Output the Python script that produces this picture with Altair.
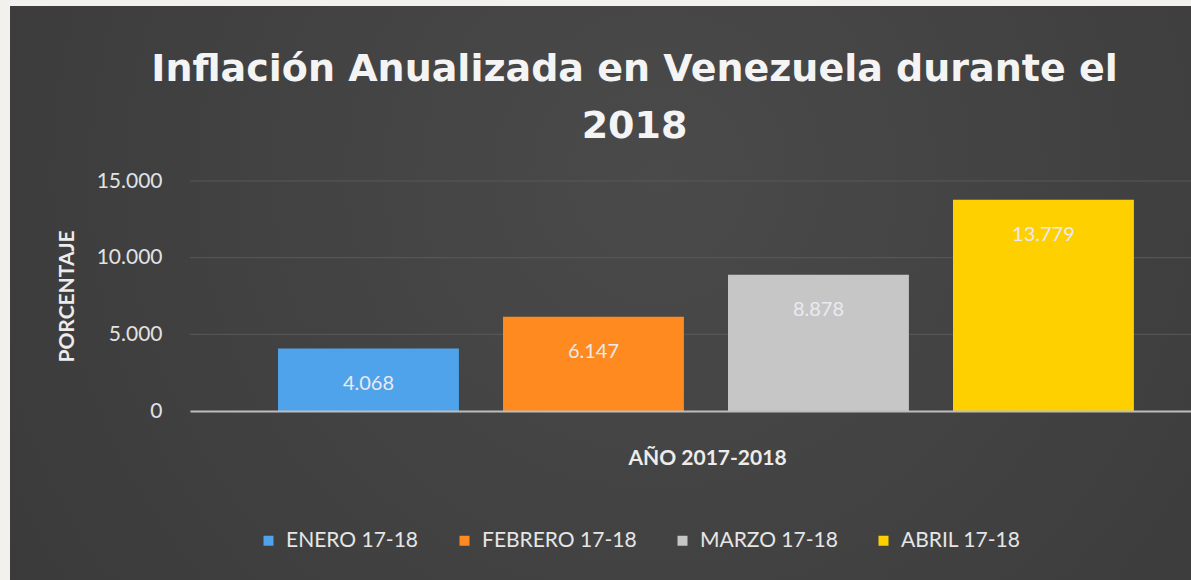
import altair as alt
import pandas as pd

categories = ["ENERO 17-18", "FEBRERO 17-18", "MARZO 17-18", "ABRIL 17-18"]
values = [4068, 6147, 8878, 13779]
colors = ["#4fa3ea", "#ff8a1f", "#c6c6c6", "#ffd000"]
y_ticks = [0, 5000, 10000, 15000]
grid_lines = [5000, 10000, 15000]

df = pd.DataFrame({"cat": categories, "val": values})

W, H = 1001, 230
FONT = "Lato"

bg = alt.Chart(pd.DataFrame({"a": [0]})).mark_rect(
    color=alt.Gradient(
        gradient="radial",
        stops=[alt.GradientStop(color="#4a4a4a", offset=0),
               alt.GradientStop(color="#383838", offset=1)],
        x1=0.55, y1=0.4, r1=0, x2=0.55, y2=0.4, r2=0.75,
    )
).encode(
    x=alt.value(-180), x2=alt.value(W), y=alt.value(-175), y2=alt.value(H + 169)
)

x_enc = alt.X(
    "cat:N", sort=categories,
    scale=alt.Scale(paddingInner=0.196, paddingOuter=0.3225, align=0.6065),
    axis=alt.Axis(labels=False, ticks=False, domain=True, domainColor="#bdbdbd",
                  domainWidth=2, zindex=1, title="AÑO 2017-2018", titleFont=FONT,
                  titleFontSize=21, titleFontWeight="bold", titleColor="#ececec",
                  titleX=517, titleY=47, titleBaseline="middle", titleAlign="center"),
)
y_enc = alt.Y(
    "val:Q", scale=alt.Scale(domain=[0, 15000], nice=False),
    axis=alt.Axis(values=y_ticks, domain=False, ticks=False, grid=False, zindex=1,
                  labelExpr="replace(format(datum.value, ','), ',', '.')",
                  labelFont=FONT, labelFontSize=21, labelColor="#e2e2e2",
                  labelPadding=28,
                  title="PORCENTAJE", titleFont=FONT, titleFontSize=21,
                  titleFontWeight="bold", titleColor="#ececec",
                  titleAngle=-90, titleX=-123, titleY=H / 2,
                  titleAlign="center", titleBaseline="middle"),
)

grid = alt.Chart(pd.DataFrame({"val": grid_lines})).mark_rule(
    color="#595959", strokeWidth=1
).encode(y=y_enc)

bars = alt.Chart(df).mark_bar().encode(
    x=x_enc, y=y_enc,
    color=alt.Color("cat:N", scale=alt.Scale(domain=categories, range=colors),
                    legend=alt.Legend(orient="none", legendX=68, legendY=349,
                                      direction="horizontal", title=None,
                                      symbolType="square", symbolSize=100,
                                      symbolStrokeWidth=0, labelFont=FONT,
                                      labelFontSize=21, labelColor="#e6e6e6",
                                      labelOffset=7, columnPadding=35)),
)

labels = alt.Chart(df).transform_calculate(
    lab="replace(format(datum.val, ','), ',', '.')"
).mark_text(dy=35, baseline="middle", font=FONT, fontSize=20,
            color="#ece9f2").encode(
    x=alt.X("cat:N", sort=categories), y="val:Q", text="lab:N"
)

chart = alt.layer(bg, grid, bars, labels).properties(
    width=W, height=H,
    background="#f2f1ed",
    padding={"left": 190, "top": 181, "right": 0, "bottom": 169},
    autosize=alt.AutoSizeParams(type="none"),
    title=alt.Title(["Inflación Anualizada en Venezuela durante el", "2018"],
                    anchor="middle", dx=-56, dy=140, font="DejaVu Sans", fontSize=38,
                    fontWeight="bold", color="#f4f4f4", lineHeight=57,
                    offset=0),
).configure_view(stroke=None)

chart.save("out.html", embed_options={"renderer": "svg", "actions": False})
